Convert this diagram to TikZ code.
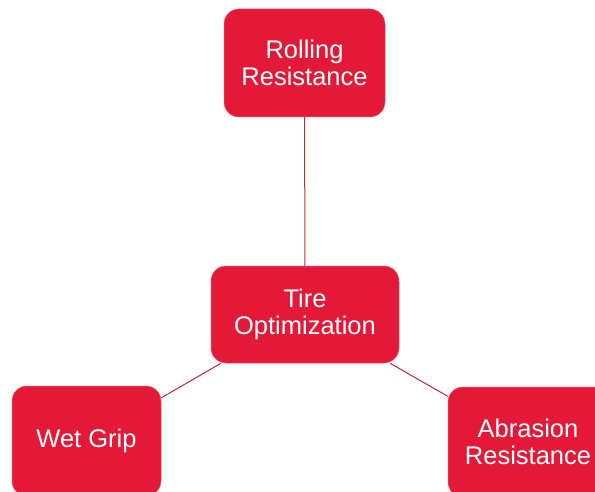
\documentclass[tikz,border=0pt]{standalone}
\usepackage{fontspec}
\setmainfont{Liberation Sans}
\definecolor{tirered}{RGB}{227,25,55}
\definecolor{linkred}{RGB}{190,40,62}
\begin{document}
\begin{tikzpicture}[x=1pt, y=-1pt, font=\fontsize{25.5}{27.5}\selectfont,
	box/.style={fill=tirered, draw=tirered!70!white, line width=0.5pt, rounded corners=15pt, text=white, align=center, inner sep=0pt},
	link/.style={draw=linkred, line width=1pt}]
	\useasboundingbox (0,0) rectangle (595,492);
	\clip (0,0) rectangle (595,492);
	\node[box, minimum width=161pt, minimum height=108pt] (roll) at (304.5,63) {Rolling\\Resistance};
	\node[box, minimum width=188pt, minimum height=97pt] (tire) at (305,314.5) {Tire\\Optimization};
	\node[box, minimum width=149pt, minimum height=110pt] (wet) at (86.5,441) {Wet Grip};
	\node[box, minimum width=160pt, minimum height=110pt] (abr) at (528,442) {Abrasion\\Resistance};
	\draw[link] (roll) -- (tire);
	\draw[link] (tire) -- (wet);
	\draw[link] (tire) -- (abr);
\end{tikzpicture}
\end{document}
